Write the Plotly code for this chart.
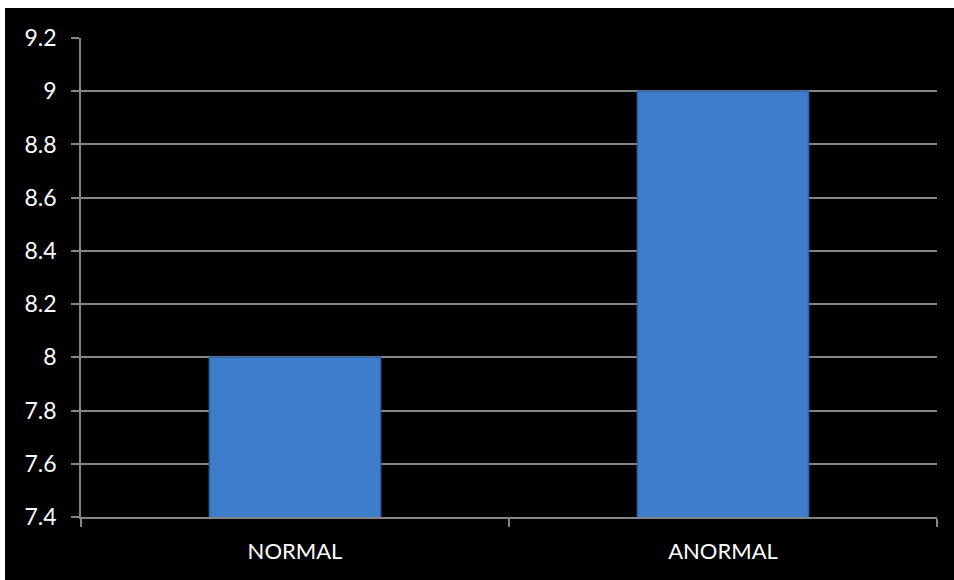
import plotly.graph_objects as go

# Chart data
categories = ["NORMAL", "ANORMAL"]
values = [8.0, 9.0]
y_ticks = [7.4, 7.6, 7.8, 8.0, 8.2, 8.4, 8.6, 8.8, 9.0, 9.2]
y_tick_labels = ["7.4", "7.6", "7.8", "8", "8.2", "8.4", "8.6", "8.8", "9", "9.2"]

W, H = 954, 580
ML, MR, MT, MB = 81, 17, 38, 63
plot_w = W - ML - MR
plot_h = H - MT - MB

GRID = "#858585"
BAR = "#3e7dcc"

fig = go.Figure(
    go.Bar(
        x=categories,
        y=values,
        marker=dict(color=BAR, line=dict(color="#2e63a8", width=1.5)),
        hoverinfo="x+y",
    )
)

# thin white strip along the top and left edges of the canvas
def px_x(p):
    return (p - ML) / plot_w

def px_y(p):
    return (H - MB - p) / plot_h

fig.add_shape(type="rect", xref="paper", yref="paper",
              x0=px_x(0), x1=px_x(W), y0=px_y(0), y1=px_y(8),
              fillcolor="white", line_width=0, layer="above")
fig.add_shape(type="rect", xref="paper", yref="paper",
              x0=px_x(0), x1=px_x(5), y0=px_y(0), y1=px_y(H),
              fillcolor="white", line_width=0, layer="above")

fig.update_layout(
    width=W,
    height=H,
    margin=dict(l=ML, r=MR, t=MT, b=MB, pad=0),
    paper_bgcolor="black",
    plot_bgcolor="black",
    bargap=0.6,
    showlegend=False,
    font=dict(family="Lato, 'Open Sans', sans-serif", color="white", size=22),
)

fig.update_xaxes(
    type="category",
    showline=True,
    linecolor=GRID,
    linewidth=1.5,
    ticks="outside",
    tickson="boundaries",
    ticklen=8,
    tickwidth=1.5,
    tickcolor=GRID,
    showgrid=False,
    ticklabelstandoff=14,
    tickfont=dict(size=22, color="white"),
)

fig.update_yaxes(
    range=[7.4, 9.2],
    tickvals=y_ticks,
    ticktext=y_tick_labels,
    showline=True,
    linecolor=GRID,
    linewidth=1.5,
    ticks="outside",
    ticklen=8,
    tickwidth=1.5,
    tickcolor=GRID,
    showgrid=True,
    gridcolor=GRID,
    gridwidth=1.5,
    zeroline=False,
    ticklabelstandoff=10,
    tickfont=dict(size=23, color="white"),
)

fig.write_html("out.html")
